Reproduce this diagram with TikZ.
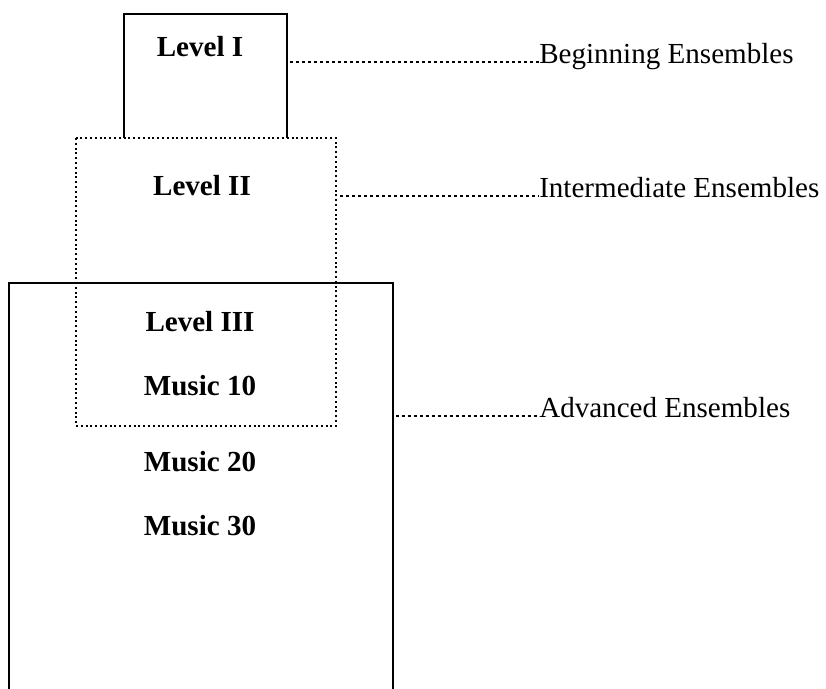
\documentclass[tikz,border=0pt]{standalone}
\usepackage{fontspec}
\setmainfont{Liberation Serif}
\usepackage{tikz}

\begin{document}
\begin{tikzpicture}[
      x=0.75pt, y=-0.75pt,
      frame/.style={line width=1.4pt},
      zone/.style={line width=1.4pt,dash pattern=on 1.5pt off 2.1pt},
      leader/.style={line width=1.1pt,dash pattern=on 2.2pt off 2.3pt},
      stage/.style={font=\fontsize{21.8}{26}\selectfont\bfseries,anchor=base,inner sep=0pt},
      group/.style={font=\fontsize{21.8}{26}\selectfont,anchor=base west,inner sep=0pt}
    ]
    \useasboundingbox (0,0) rectangle (826,689);
    % Draw the level boxes.
    \draw[frame] (124,138) -- (124,14) -- (287,14) -- (287,138);
    \draw[frame] (9,689) -- (9,283) -- (393,283) -- (393,689);
    \draw[zone] (76,138) rectangle (336,426);
    % Draw the stage labels.
    \node[stage] (lvlone)   at (200,56)  {Level I};
    \node[stage] (lvltwo)   at (202,195) {Level II};
    \node[stage] (lvlthree) at (200,331) {Level III};
    \node[stage] (musten)   at (200,395) {Music 10};
    \node[stage] (mustwenty) at (200,471) {Music 20};
    \node[stage] (musthirty) at (200,535) {Music 30};
    % Draw the ensemble labels.
    \node[group] (beginning)    at (539,63)  {Beginning Ensembles};
    \node[group] (intermediate) at (539,197) {Intermediate Ensembles};
    \node[group] (advanced)     at (539,417) {Advanced Ensembles};
    % Draw the leaders.
    \coordinate (oneedge)   at (290,62);
    \coordinate (twoedge)   at (340,196);
    \coordinate (threeedge) at (396,416);
    \draw[leader] (oneedge)   -- ([yshift=0.75pt]beginning.base west);
    \draw[leader] (twoedge)   -- ([yshift=0.75pt]intermediate.base west);
    \draw[leader] (threeedge) -- ([yshift=0.75pt]advanced.base west);
    \end{tikzpicture}
\end{document}
